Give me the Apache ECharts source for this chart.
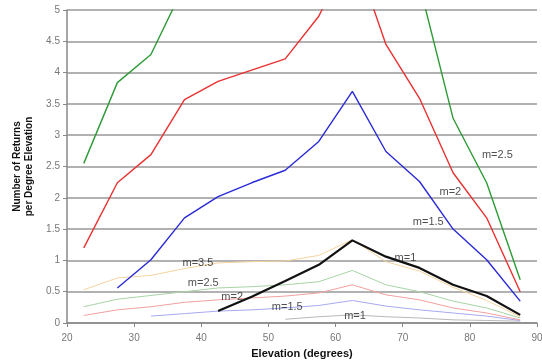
<!DOCTYPE html>
<html>
<head>
<meta charset="utf-8">
<script src="https://cdn.jsdelivr.net/npm/echarts@6/dist/echarts.min.js"></script>
<style>
  html, body { margin: 0; padding: 0; background: #fff; }
  #chart { width: 542px; height: 361px; }
</style>
</head>
<body>
<div id="chart"></div>
<script>
// elevation bin centres (degrees)
var elevation = [22.5, 27.5, 32.5, 37.5, 42.5, 47.5, 52.5, 57.5, 62.5, 67.5, 72.5, 77.5, 82.5, 87.5];

// bold curves
var green25 = [2.55, 3.84, 4.29, 5.4, 6.0, 6.4, 6.8, 7.5, 9.0, 7.4, 5.4, 3.27, 2.24, 0.69];
var red2 = [1.20, 2.24, 2.69, 3.57, 3.86, 4.04, 4.22, 4.9, 6.0, 4.45, 3.59, 2.40, 1.68, 0.50];
var blue15 = [null, 0.56, 1.01, 1.68, 2.02, 2.24, 2.44, 2.90, 3.70, 2.74, 2.26, 1.50, 1.01, 0.35];
var black1 = [null, null, null, null, 0.19, 0.42, 0.67, 0.93, 1.32, 1.06, 0.88, 0.61, 0.43, 0.13];

// faint curves
var tan35 = [0.53, 0.72, 0.76, 0.87, 0.96, 0.98, 0.99, 1.08, 1.33, 0.98, 0.83, 0.57, 0.36, 0.10];
var lgreen25 = [0.26, 0.38, 0.44, 0.50, 0.56, 0.58, 0.61, 0.66, 0.84, 0.61, 0.50, 0.35, 0.24, 0.08];
var lred2 = [0.12, 0.21, 0.26, 0.33, 0.37, 0.40, 0.43, 0.48, 0.61, 0.45, 0.37, 0.24, 0.16, 0.05];
var lblue15 = [null, null, 0.11, 0.15, 0.19, 0.21, 0.24, 0.28, 0.36, 0.27, 0.21, 0.16, 0.11, 0.04];
var grey1 = [null, null, null, null, null, null, 0.06, 0.10, 0.13, 0.10, 0.08, 0.05, 0.04, 0.03];

// curve labels (data coords)
var labelText = ['m=2.5', 'm=2', 'm=1.5', 'm=1', 'm=3.5', 'm=2.5', 'm=2', 'm=1.5', 'm=1'];
var labelX = [84.1, 77.1, 73.8, 70.4, 39.5, 40.3, 44.6, 52.8, 62.9];
var labelY = [2.69, 2.10, 1.62, 1.04, 0.96, 0.64, 0.42, 0.26, 0.12];

function pairs(vals) {
  var res = [];
  for (var i = 0; i < elevation.length; i++) {
    res.push([elevation[i], vals[i]]);
  }
  return res;
}

function line(vals, color, width, z) {
  return {
    type: 'line',
    data: pairs(vals),
    showSymbol: false,
    symbol: 'none',
    clip: true,
    z: z,
    lineStyle: { color: color, width: width },
    animation: false
  };
}

var labelData = labelText.map(function (t, i) {
  return [labelX[i], labelY[i], t];
});

var option = {
  animation: false,
  grid: { left: 67, right: 5, top: 10, bottom: 38, outerBoundsMode: 'none' },
  xAxis: {
    type: 'value',
    min: 20,
    max: 90,
    interval: 10,
    name: 'Elevation (degrees)',
    nameLocation: 'middle',
    nameGap: 25,
    nameTextStyle: { fontFamily: 'Liberation Sans', fontWeight: 'bold', fontSize: 11, color: '#111' },
    axisLine: { show: true, lineStyle: { color: '#888', width: 1.5 } },
    axisTick: { show: true, length: 4, lineStyle: { color: '#888' } },
    axisLabel: { fontFamily: 'Liberation Sans', fontSize: 10, color: '#777', margin: 10 },
    splitLine: { show: false }
  },
  yAxis: {
    type: 'value',
    min: 0,
    max: 5,
    interval: 0.5,
    name: 'Number of Returns\nper Degree Elevation',
    nameLocation: 'middle',
    nameGap: 32,
    nameTextStyle: { fontFamily: 'Liberation Sans', fontWeight: 'bold', fontSize: 10, color: '#111', lineHeight: 12 },
    axisLine: { show: true, lineStyle: { color: '#888', width: 1.5 } },
    axisTick: { show: true, length: 4, lineStyle: { color: '#888' } },
    axisLabel: { fontFamily: 'Liberation Sans', fontSize: 10, color: '#777', margin: 7 },
    splitLine: { show: true, lineStyle: { color: '#999', width: 1.5 } }
  },
  series: [
    line(grey1, '#b8b8b8', 1, 2),
    line(lblue15, '#a8a8f0', 1, 2),
    line(lred2, '#f2a0a0', 1, 2),
    line(lgreen25, '#a6d4a6', 1, 2),
    line(tan35, '#f5d3a0', 1, 2),
    line(green25, '#2e9a35', 1.4, 3),
    line(red2, '#ea3030', 1.4, 3),
    line(blue15, '#2a2ad8', 1.4, 3),
    line(black1, '#111111', 2.2, 4),
    {
      type: 'scatter',
      data: labelData,
      symbolSize: 0,
      z: 5,
      silent: true,
      label: {
        show: true,
        position: 'inside',
        fontFamily: 'Liberation Sans',
        fontSize: 11,
        color: '#222',
        formatter: function (p) { return p.data[2]; }
      }
    }
  ]
};

var chart = echarts.init(document.getElementById('chart'));
chart.setOption(option);
</script>
</body>
</html>
